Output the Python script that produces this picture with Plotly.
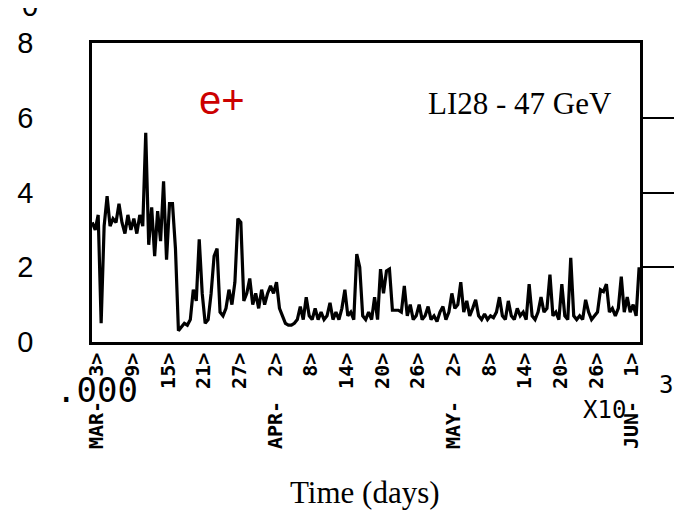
import plotly.graph_objects as go

# Time grid: day index counted from March 1 (Mar 3 = 3, Apr 2 = 33, May 2 = 63, Jun 1 = 93)
start_day = 2.2
step_days = 0.5

# Read values (hand-estimated from the picture)
values = [
    3.2, 3.0, 3.4, 0.5, 3.1, 3.9, 3.1, 3.3, 3.2, 3.7,
    3.2, 2.9, 3.4, 3.0, 3.3, 2.9, 3.4, 3.1, 5.6, 2.6,
    3.6, 2.3, 3.5, 2.7, 4.3, 2.2, 3.7, 3.7, 2.5, 0.3,
    0.4, 0.5, 0.45, 0.6, 1.4, 1.1, 2.75, 1.3, 0.5, 0.6,
    1.3, 2.3, 2.5, 0.8, 0.7, 0.9, 1.4, 1.0, 1.6, 3.3,
    3.2, 1.1, 1.3, 1.7, 1.0, 1.3, 0.9, 1.4, 1.0, 1.3,
    1.5, 1.3, 1.6, 0.9, 0.7, 0.5, 0.45, 0.45, 0.5, 0.6,
    0.95, 0.6, 1.2, 0.7, 0.6, 0.9, 0.6, 0.8, 0.6, 0.7,
    1.05, 0.6, 0.8, 0.6, 0.9, 1.4, 0.7, 0.8, 0.6, 2.35,
    2.0, 0.7, 0.6, 0.8, 0.6, 1.2, 0.6, 1.95, 1.3, 1.9,
    1.95, 0.85, 0.85, 0.85, 0.8, 1.5, 0.7, 1.0, 0.6, 0.7,
    1.0, 0.6, 0.7, 0.95, 0.6, 0.7, 0.55, 0.8, 0.95, 0.6,
    0.8, 1.3, 0.9, 1.0, 1.6, 0.8, 1.1, 0.7, 0.9, 1.13,
    0.7, 0.6, 0.75, 0.6, 0.7, 0.65, 0.8, 1.2, 0.7, 0.6,
    1.1, 0.7, 0.6, 0.9, 0.7, 0.8, 0.6, 1.55, 0.7, 0.6,
    0.8, 1.2, 0.8, 0.9, 1.8, 0.7, 0.8, 0.6, 1.55, 0.7,
    0.6, 2.25, 0.7, 0.6, 0.7, 0.6, 1.13, 0.8, 0.6, 0.7,
    0.8, 1.4, 1.35, 1.55, 0.8, 0.9, 0.7, 0.9, 1.75, 0.8,
    1.2, 0.8, 1.0, 0.7, 2.0,
]
days = [start_day + step_days * i for i in range(len(values))]

tick_days = [3, 9, 15, 21, 27, 33, 39, 45, 51, 57, 63, 69, 75, 81, 87, 93]
tick_labels = ["MAR-  3>", "9>", "15>", "21>", "27>",
               "APR-  2>", "8>", "14>", "20>", "26>",
               "MAY-  2>", "8>", "14>", "20>", "26>", "JUN-  1>"]
y_ticks = [0, 2, 4, 6, 8]
right_ticks = [2, 4, 6]

fig = go.Figure()
fig.add_trace(go.Scatter(x=days, y=values, mode="lines",
                         line=dict(color="black", width=3.2),
                         showlegend=False, hoverinfo="skip"))
fig.add_trace(go.Scatter(x=[], y=[], yaxis="y2", showlegend=False))


def note(text, x, y, family, size, color="black"):
    return dict(text=text, x=x, y=y, xref="paper", yref="paper",
                xanchor="center", yanchor="middle", showarrow=False,
                font=dict(family=family, size=size, color=color))


fig.update_layout(
    width=682, height=512,
    # the page body adds an 8px offset, so margins are compensated
    margin=dict(l=84, r=50, t=35, b=178),
    paper_bgcolor="white", plot_bgcolor="white",
    xaxis=dict(range=[2.16, 94.35], tickvals=tick_days, ticktext=tick_labels,
               tickangle=-90, ticks="", showgrid=False, zeroline=False,
               automargin=False,
               showline=True, mirror=True, linecolor="black", linewidth=2.5,
               tickfont=dict(family="DejaVu Sans Mono", size=20, color="black",
                             weight="bold")),
    yaxis=dict(range=[0, 8], tickvals=y_ticks, ticks="", showgrid=False,
               zeroline=False, showline=True, mirror=True, linecolor="black",
               linewidth=2.5, ticklabelstandoff=50, automargin=False,
               tickfont=dict(family="Liberation Sans", size=29, color="black")),
    yaxis2=dict(range=[0, 8], overlaying="y", side="right", tickvals=right_ticks,
                ticks="outside", ticklen=42, tickwidth=2, tickcolor="black",
                automargin=False,
                showticklabels=False, showgrid=False, zeroline=False, showline=False),
    annotations=[
        note("e+", 0.237, 0.809, "Liberation Sans", 40, "#cc0000"),
        note("LI28 - 47 GeV", 0.781, 0.799, "Liberation Serif", 31),
        note("Time (days)", 0.498, -0.502, "Liberation Serif", 31),
        note(".000", 0.009, -0.161, "DejaVu Sans Mono", 34),
        note("X10", 0.936, -0.227, "DejaVu Sans Mono", 24),
        note("3", 1.047, -0.144, "DejaVu Sans Mono", 24),
        note("0", -0.113, 1.125, "Liberation Sans", 29),
    ],
)

fig.write_html("out.html")
